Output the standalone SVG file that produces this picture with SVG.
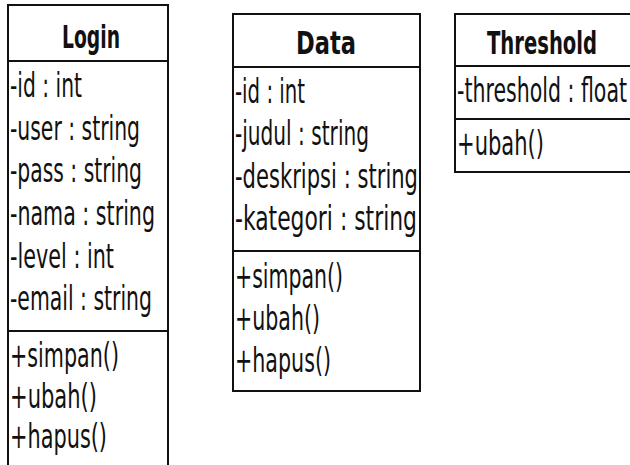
<svg xmlns="http://www.w3.org/2000/svg" width="630" height="465" viewBox="0 0 630 465">
<style>
.box{fill:#fff;stroke:#111;stroke-width:2}
.sep{stroke:#111;stroke-width:2}
.t{font-family:"DejaVu Sans","Liberation Sans",sans-serif;font-size:33px;fill:#111}
.h{font-family:"DejaVu Sans","Liberation Sans",sans-serif;font-size:32px;font-weight:bold;fill:#111;text-anchor:middle}
</style>
<rect width="630" height="465" fill="#fff"/>
<g id="login">
<rect class="box" x="8" y="5" width="160" height="470"/>
<line class="sep" x1="8" y1="61" x2="168" y2="61"/>
<line class="sep" x1="8" y1="331" x2="168" y2="331"/>
<text class="h" x="91" y="48" textLength="58" lengthAdjust="spacingAndGlyphs">Login</text>
<text class="t" x="10" y="97" textLength="72" lengthAdjust="spacingAndGlyphs">-id : int</text>
<text class="t" x="10" y="140" textLength="130" lengthAdjust="spacingAndGlyphs">-user : string</text>
<text class="t" x="10" y="182" textLength="132" lengthAdjust="spacingAndGlyphs">-pass : string</text>
<text class="t" x="10" y="225" textLength="145" lengthAdjust="spacingAndGlyphs">-nama : string</text>
<text class="t" x="10" y="268" textLength="104" lengthAdjust="spacingAndGlyphs">-level : int</text>
<text class="t" x="10" y="310" textLength="142" lengthAdjust="spacingAndGlyphs">-email : string</text>
<text class="t" x="10" y="367" textLength="109" lengthAdjust="spacingAndGlyphs">+simpan()</text>
<text class="t" x="10" y="408" textLength="87" lengthAdjust="spacingAndGlyphs">+ubah()</text>
<text class="t" x="10" y="448" textLength="97" lengthAdjust="spacingAndGlyphs">+hapus()</text>
</g>
<g id="data">
<rect class="box" x="233" y="14" width="187" height="377"/>
<line class="sep" x1="233" y1="67" x2="420" y2="67"/>
<line class="sep" x1="233" y1="251" x2="420" y2="251"/>
<text class="h" x="326" y="54" textLength="60" lengthAdjust="spacingAndGlyphs">Data</text>
<text class="t" x="235" y="103" textLength="70" lengthAdjust="spacingAndGlyphs">-id : int</text>
<text class="t" x="235" y="145" textLength="134" lengthAdjust="spacingAndGlyphs">-judul : string</text>
<text class="t" x="235" y="188" textLength="183" lengthAdjust="spacingAndGlyphs">-deskripsi : string</text>
<text class="t" x="235" y="230" textLength="182" lengthAdjust="spacingAndGlyphs">-kategori : string</text>
<text class="t" x="235" y="288" textLength="108" lengthAdjust="spacingAndGlyphs">+simpan()</text>
<text class="t" x="235" y="330" textLength="85" lengthAdjust="spacingAndGlyphs">+ubah()</text>
<text class="t" x="235" y="372" textLength="96" lengthAdjust="spacingAndGlyphs">+hapus()</text>
</g>
<g id="threshold">
<rect class="box" x="455" y="14" width="180" height="158"/>
<line class="sep" x1="455" y1="66" x2="635" y2="66"/>
<line class="sep" x1="455" y1="119" x2="635" y2="119"/>
<text class="h" x="542" y="54" textLength="110" lengthAdjust="spacingAndGlyphs">Threshold</text>
<text class="t" x="457" y="102" textLength="170" lengthAdjust="spacingAndGlyphs">-threshold : float</text>
<text class="t" x="457" y="155" textLength="87" lengthAdjust="spacingAndGlyphs">+ubah()</text>
</g>
<g id="connectors"/>
</svg>
